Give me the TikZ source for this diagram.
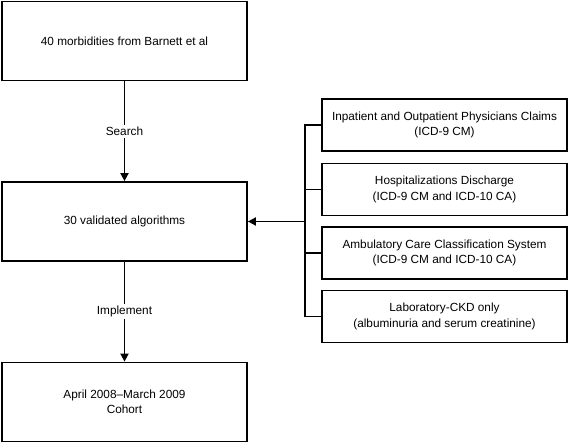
\documentclass[tikz,border=0pt]{standalone}
\usepackage{fontspec}
\setmainfont{Liberation Sans}
\usetikzlibrary{arrows.meta, positioning}
\tikzset{
  stepbox/.style={rectangle, draw=black, fill=white,
    minimum width=245pt, minimum height=79pt, align=center,
    font=\fontsize{11.8}{15.3}\selectfont, line width=1.8pt},
  srcbox/.style={rectangle, draw=black, fill=white,
    minimum width=245pt, minimum height=52pt, align=center,
    font=\fontsize{11.8}{15.3}\selectfont, line width=1.8pt},
  lbl/.style={fill=white, inner sep=2pt, font=\fontsize{11.8}{13}\selectfont},
  arrow/.style={-{Triangle[length=8pt,width=8pt]}, line width=1.8pt, color=black},
  line/.style={line width=1.8pt, color=black}
}

\begin{document}
\begin{tikzpicture}[x=1pt,y=-1pt]
  \useasboundingbox (0,0) rectangle (569,443);
  % main column
  \node[stepbox] (morb) at (124.5,41) {40 morbidities from Barnett et al};
  \node[stepbox] (algo) at (124.5,221.5) {30 validated algorithms};
  \node[stepbox] (cohort) at (124.5,402) {April 2008--March 2009\\Cohort};
  % data sources
  \node[srcbox] (claims) at (444.5,125) {Inpatient and Outpatient Physicians Claims\\(ICD-9 CM)};
  \node[srcbox] (hosp) at (444.5,189.5) {Hospitalizations Discharge\\(ICD-9 CM and ICD-10 CA)};
  \node[srcbox] (accs) at (444.5,253) {Ambulatory Care Classification System\\(ICD-9 CM and ICD-10 CA)};
  \node[srcbox] (lab) at (444.5,316.5) {Laboratory-CKD only\\(albuminuria and serum creatinine)};
  \coordinate (bus) at (305,221.5);
  % connectors
  \draw[arrow] (morb) -- node[lbl] {Search} (algo);
  \draw[arrow] (algo) -- node[lbl] {Implement} (cohort);
  \draw[line] (claims.west) -| (bus |- lab.west) -- (lab.west);
  \draw[line] (hosp.west) -- (bus |- hosp.west);
  \draw[line] (accs.west) -- (bus |- accs.west);
  \draw[arrow] (bus) -- (algo.east);
\end{tikzpicture}
\end{document}
